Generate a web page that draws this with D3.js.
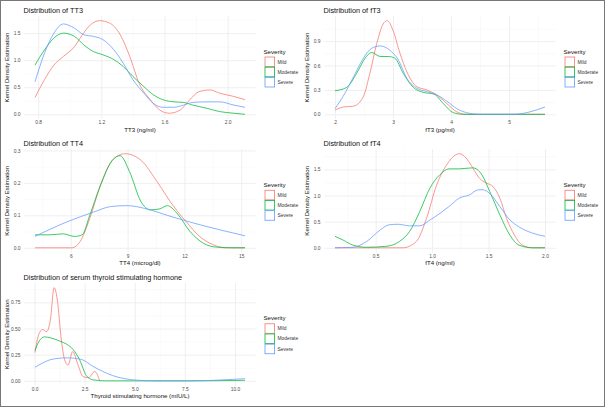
<!DOCTYPE html>
<html>
<head>
<meta charset="utf-8">
<script src="https://cdn.jsdelivr.net/npm/d3@7"></script>
<style>
  body { margin: 0; background: #fff; }
  svg { display: block; font-family: "Liberation Sans", Arial, sans-serif; }
  .tick text { fill: #4d4d4d; }
</style>
</head>
<body>
<div id="chart"></div>
<script>
// severity groups and their ggplot hue colours
var severities = ["Mild", "Moderate", "Severe"];
var sevColors = ["#F8766D", "#00BA38", "#619CFF"];

// density curves: [x, density]
var tt3Mild = [[0.78,0.31],[0.84,0.64],[0.9,0.91],[0.96,1.07],[1.03,1.25],[1.08,1.47],[1.13,1.65],[1.19,1.73],[1.25,1.69],[1.32,1.47],[1.38,1.07],[1.44,0.57],[1.51,0.27],[1.57,0.08],[1.63,0.02],[1.7,0.08],[1.76,0.27],[1.82,0.42],[1.89,0.45],[1.95,0.39],[2.04,0.33],[2.11,0.27]];
var tt3Moderate = [[0.78,0.91],[0.84,1.19],[0.9,1.41],[0.96,1.5],[1.03,1.44],[1.09,1.28],[1.15,1.16],[1.21,1.1],[1.28,1.01],[1.34,0.88],[1.4,0.7],[1.47,0.51],[1.53,0.36],[1.59,0.27],[1.66,0.23],[1.72,0.22],[1.78,0.17],[1.87,0.11],[1.95,0.05],[2.04,0.02],[2.11,0.0]];
var tt3Severe = [[0.78,0.6],[0.84,1.13],[0.9,1.5],[0.96,1.67],[1.03,1.59],[1.09,1.47],[1.15,1.44],[1.21,1.38],[1.28,1.19],[1.34,0.94],[1.4,0.64],[1.47,0.39],[1.53,0.2],[1.59,0.13],[1.66,0.13],[1.72,0.17],[1.78,0.22],[1.87,0.23],[1.95,0.23],[2.04,0.17],[2.11,0.13]];

var ft3Mild = [[2.0,0.05],[2.14,0.09],[2.32,0.1],[2.49,0.22],[2.6,0.5],[2.72,0.87],[2.83,1.11],[2.9,1.15],[3.0,1.03],[3.12,0.75],[3.24,0.52],[3.41,0.34],[3.58,0.3],[3.75,0.24],[3.93,0.13],[4.1,0.03],[4.27,0.0],[5.0,0.0],[5.62,0.0]];
var ft3Moderate = [[2.0,0.29],[2.2,0.33],[2.37,0.5],[2.52,0.69],[2.63,0.76],[2.78,0.71],[2.92,0.71],[3.03,0.69],[3.18,0.5],[3.35,0.33],[3.52,0.27],[3.7,0.25],[3.87,0.13],[4.04,0.02],[4.21,0.0],[5.0,0.0],[5.62,0.0]];
var ft3Severe = [[2.0,0.07],[2.14,0.22],[2.32,0.46],[2.49,0.69],[2.63,0.81],[2.78,0.84],[2.94,0.79],[3.09,0.67],[3.24,0.44],[3.41,0.32],[3.58,0.28],[3.75,0.24],[3.93,0.16],[4.1,0.07],[4.27,0.02],[4.5,0.0],[5.07,0.0],[5.36,0.03],[5.62,0.09]];

var tt4Mild = [[4.11,0.0],[5.5,0.0],[6.05,0.0],[6.5,0.02],[7.0,0.09],[7.55,0.19],[8.2,0.27],[8.87,0.29],[9.7,0.27],[10.6,0.2],[11.4,0.13],[12.1,0.08],[12.8,0.035],[13.5,0.01],[14.2,0.0],[15.2,0.0]];
var tt4Moderate = [[4.11,0.04],[4.9,0.04],[5.6,0.043],[6.2,0.035],[6.6,0.04],[7.0,0.1],[7.55,0.19],[8.2,0.27],[8.6,0.284],[9.1,0.235],[9.7,0.143],[10.2,0.117],[10.7,0.12],[11.1,0.13],[11.6,0.107],[12.3,0.05],[13.0,0.014],[13.7,0.002],[14.5,0.0],[15.2,0.0]];
var tt4Severe = [[4.11,0.035],[5.8,0.08],[7.2,0.11],[8.1,0.127],[8.95,0.13],[10.0,0.12],[11.1,0.1],[12.5,0.076],[13.9,0.055],[15.2,0.037]];

var ft4Mild = [[0.14,0.0],[0.5,0.0],[0.74,0.0],[0.86,0.12],[0.95,0.56],[1.04,1.2],[1.13,1.59],[1.21,1.78],[1.24,1.8],[1.3,1.72],[1.36,1.53],[1.42,1.33],[1.48,1.24],[1.54,1.17],[1.6,0.95],[1.66,0.56],[1.73,0.24],[1.8,0.05],[1.89,0.0],[2.0,0.0]];
var ft4Moderate = [[0.14,0.22],[0.21,0.15],[0.3,0.05],[0.42,0.01],[0.6,0.03],[0.71,0.12],[0.8,0.31],[0.89,0.69],[0.98,1.14],[1.07,1.4],[1.15,1.51],[1.24,1.51],[1.36,1.53],[1.44,1.4],[1.51,1.08],[1.6,0.63],[1.69,0.24],[1.77,0.05],[1.89,0.0],[2.0,0.0]];
var ft4Severe = [[0.14,0.0],[0.3,0.01],[0.42,0.12],[0.54,0.34],[0.62,0.44],[0.7,0.45],[0.8,0.42],[0.89,0.42],[0.98,0.53],[1.07,0.66],[1.15,0.79],[1.24,0.95],[1.33,1.01],[1.41,1.11],[1.45,1.11],[1.51,1.04],[1.6,0.79],[1.69,0.53],[1.77,0.4],[1.89,0.28],[2.0,0.22]];

var tshMild = [[0.02,0.27],[0.2,0.44],[0.4,0.49],[0.6,0.47],[0.8,0.6],[0.97,0.89],[1.15,0.75],[1.3,0.45],[1.5,0.2],[1.67,0.15],[1.9,0.28],[2.17,0.15],[2.42,0.04],[2.7,0.03],[3.0,0.09],[3.25,0.0]];
var tshModerate = [[0.02,0.29],[0.2,0.37],[0.5,0.42],[0.8,0.41],[1.25,0.38],[1.6,0.35],[1.92,0.3],[2.25,0.2],[2.58,0.05],[2.9,0.01],[3.5,0.0],[5.0,0.0],[7.5,0.0],[10.5,0.005]];
var tshSevere = [[0.02,0.13],[0.4,0.17],[0.75,0.2],[1.2,0.215],[1.6,0.22],[2.0,0.215],[2.4,0.2],[2.9,0.14],[3.4,0.09],[3.9,0.05],[4.5,0.02],[5.2,0.005],[6.0,0.0],[8.0,0.0],[9.5,0.01],[10.5,0.02]];

// tick values and labels
var tt3XTicks = [0.8, 1.2, 1.6, 2.0], tt3XLabels = ["0.8", "1.2", "1.6", "2.0"];
var tt3YTicks = [0, 0.5, 1.0, 1.5], tt3YLabels = ["0.0", "0.5", "1.0", "1.5"];
var ft3XTicks = [2, 3, 4, 5], ft3XLabels = ["2", "3", "4", "5"];
var ft3YTicks = [0, 0.3, 0.6, 0.9], ft3YLabels = ["0.0", "0.3", "0.6", "0.9"];
var tt4XTicks = [6, 9, 12, 15], tt4XLabels = ["6", "9", "12", "15"];
var tt4YTicks = [0, 0.1, 0.2, 0.3], tt4YLabels = ["0.0", "0.1", "0.2", "0.3"];
var ft4XTicks = [0.5, 1.0, 1.5, 2.0], ft4XLabels = ["0.5", "1.0", "1.5", "2.0"];
var ft4YTicks = [0, 0.5, 1.0, 1.5], ft4YLabels = ["0.0", "0.5", "1.0", "1.5"];
var tshXTicks = [0, 2.5, 5, 7.5, 10], tshXLabels = ["0.0", "2.5", "5.0", "7.5", "10.0"];
var tshYTicks = [0, 0.25, 0.5, 0.75], tshYLabels = ["0.00", "0.25", "0.50", "0.75"];

var width = 605, height = 407;

var svg = d3.select("#chart").append("svg")
    .attr("width", width)
    .attr("height", height);

svg.append("rect")
    .attr("width", width).attr("height", height)
    .attr("fill", "#fff");

// panel boxes (px) for the five small plots
var panels = [
  {title: "Distribution of TT3", xTitle: "TT3 (ng/ml)", left: 24.5, right: 255.5, top: 16, bottom: 119,
   series: [tt3Mild, tt3Moderate, tt3Severe], xt: tt3XTicks, xl: tt3XLabels, yt: tt3YTicks, yl: tt3YLabels},
  {title: "Distribution of fT3", xTitle: "fT3 (pg/ml)", left: 324.5, right: 555.5, top: 16, bottom: 119,
   series: [ft3Mild, ft3Moderate, ft3Severe], xt: ft3XTicks, xl: ft3XLabels, yt: ft3YTicks, yl: ft3YLabels},
  {title: "Distribution of TT4", xTitle: "TT4 (microg/dl)", left: 24.5, right: 255.5, top: 149, bottom: 252.5,
   series: [tt4Mild, tt4Moderate, tt4Severe], xt: tt4XTicks, xl: tt4XLabels, yt: tt4YTicks, yl: tt4YLabels},
  {title: "Distribution of fT4", xTitle: "fT4 (ng/ml)", left: 324.5, right: 555.5, top: 149, bottom: 252.5,
   series: [ft4Mild, ft4Moderate, ft4Severe], xt: ft4XTicks, xl: ft4XLabels, yt: ft4YTicks, yl: ft4YLabels},
  {title: "Distribution of serum thyroid stimulating hormone", xTitle: "Thyroid stimulating hormone (mIU/L)",
   left: 24.5, right: 255.5, top: 283, bottom: 385.5,
   series: [tshMild, tshModerate, tshSevere], xt: tshXTicks, xl: tshXLabels, yt: tshYTicks, yl: tshYLabels}
];

// ggplot style minor breaks: halfway between the majors
function minorTicks(ticks, domain) {
  var step = ticks[1] - ticks[0];
  var out = [];
  for (var v = ticks[0] - step / 2; v <= domain[1]; v += step) {
    if (v >= domain[0]) out.push(v);
  }
  return out;
}

panels.forEach(function(p) {
  var allX = [], maxY = 0;
  p.series.forEach(function(s) {
    s.forEach(function(d) { allX.push(d[0]); maxY = Math.max(maxY, d[1]); });
  });
  var ext = d3.extent(allX);
  var pad = (ext[1] - ext[0]) * 0.05;
  var x = d3.scaleLinear().domain([ext[0] - pad, ext[1] + pad]).range([p.left, p.right]);
  var y = d3.scaleLinear().domain([-maxY * 0.05, maxY * 1.05]).range([p.bottom, p.top]);

  var g = svg.append("g");
  var h = p.bottom - p.top, w = p.right - p.left;

  // minor grid
  g.append("g")
      .attr("transform", "translate(0," + p.bottom + ")")
      .call(d3.axisBottom(x).tickValues(minorTicks(p.xt, x.domain())).tickSize(-h).tickFormat(""))
      .call(function(a) { a.select(".domain").remove(); a.selectAll("line").attr("stroke", "#f4f4f4").attr("stroke-width", 0.5); });
  g.append("g")
      .attr("transform", "translate(" + p.left + ",0)")
      .call(d3.axisLeft(y).tickValues(minorTicks(p.yt, y.domain())).tickSize(-w).tickFormat(""))
      .call(function(a) { a.select(".domain").remove(); a.selectAll("line").attr("stroke", "#f4f4f4").attr("stroke-width", 0.5); });

  // major grid + tick labels
  g.append("g")
      .attr("transform", "translate(0," + p.bottom + ")")
      .call(d3.axisBottom(x).tickValues(p.xt).tickSize(-h).tickPadding(1.8)
            .tickFormat(function(d, i) { return p.xl[i]; }))
      .call(function(a) {
        a.select(".domain").remove();
        a.selectAll("line").attr("stroke", "#ebebeb").attr("stroke-width", 0.8);
        a.selectAll("text").attr("font-size", 4.9).attr("font-family", "Liberation Sans, Arial, sans-serif");
      });
  g.append("g")
      .attr("transform", "translate(" + p.left + ",0)")
      .call(d3.axisLeft(y).tickValues(p.yt).tickSize(-w).tickPadding(4)
            .tickFormat(function(d, i) { return p.yl[i]; }))
      .call(function(a) {
        a.select(".domain").remove();
        a.selectAll("line").attr("stroke", "#ebebeb").attr("stroke-width", 0.8);
        a.selectAll("text").attr("font-size", 4.9).attr("font-family", "Liberation Sans, Arial, sans-serif");
      });

  // density lines
  var line = d3.line()
      .x(function(d) { return x(d[0]); })
      .y(function(d) { return y(d[1]); })
      .curve(d3.curveMonotoneX);
  p.series.forEach(function(s, i) {
    g.append("path")
        .datum(s)
        .attr("d", line)
        .attr("fill", "none")
        .attr("stroke", sevColors[i])
        .attr("stroke-width", 0.9)
        .attr("stroke-opacity", 0.85);
  });

  // titles
  g.append("text")
      .attr("x", p.left - 1)
      .attr("y", p.top - 3.5)
      .attr("font-size", 7.3)
      .attr("fill", "#111")
      .text(p.title);
  g.append("text")
      .attr("x", (p.left + p.right) / 2)
      .attr("y", p.bottom + 12.8)
      .attr("text-anchor", "middle")
      .attr("font-size", 6.1)
      .attr("fill", "#111")
      .text(p.xTitle);
  g.append("text")
      .attr("transform", "translate(" + (p.left - 16) + "," + ((p.top + p.bottom) / 2) + ")rotate(-90)")
      .attr("text-anchor", "middle")
      .attr("font-size", 6.1)
      .attr("fill", "#111")
      .text("Kernel Density Estimation");

  // legend
  var lg = g.append("g")
      .attr("transform", "translate(" + (p.right + 9) + "," + ((p.top + p.bottom) / 2 - 20) + ")");
  lg.append("text")
      .attr("x", -1).attr("y", 6)
      .attr("font-size", 6.1)
      .attr("fill", "#111")
      .text("Severity");
  severities.forEach(function(s, i) {
    lg.append("rect")
        .attr("x", 0.5).attr("y", 9.5 + i * 10.2)
        .attr("width", 9.6).attr("height", 9.6)
        .attr("fill", "#fff")
        .attr("stroke", sevColors[i])
        .attr("stroke-width", 0.8);
    lg.append("text")
        .attr("x", 13).attr("y", 16 + i * 10.2)
        .attr("font-size", 4.9)
        .attr("fill", "#333")
        .text(s);
  });
});

// outer frame of the figure
svg.append("rect")
    .attr("x", 0.5).attr("y", 0.5)
    .attr("width", width - 1).attr("height", height - 1)
    .attr("fill", "none")
    .attr("stroke", "#777")
    .attr("stroke-width", 1);
</script>
</body>
</html>
